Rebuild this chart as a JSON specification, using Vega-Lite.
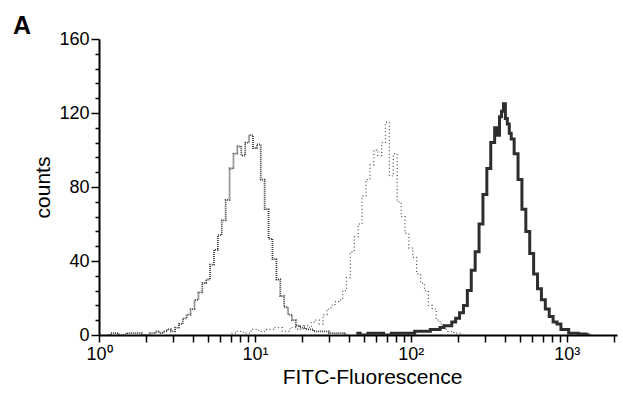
{
  "$schema": "https://vega.github.io/schema/vega-lite/v6.json",
  "width": 518,
  "height": 296,
  "autosize": {"type": "none"},
  "padding": {"left": 99, "top": 39, "right": 6, "bottom": 58},
  "background": "white",
  "title": {"text": "A", "anchor": "start", "frame": "group", "dx": -86, "dy": 17, "offset": 8, "fontSize": 25, "fontWeight": "bold", "font": "Liberation Sans", "color": "black"},
  "config": {
    "view": {"stroke": null},
    "axis": {"grid": false, "domainColor": "black", "domainWidth": 2, "tickColor": "black", "tickWidth": 1.5, "labelFont": "Liberation Sans", "labelFontSize": 18, "labelColor": "black", "titleFont": "Liberation Sans", "titleFontSize": 21, "titleFontWeight": "normal", "titleColor": "black"}
  },
  "data": {"values": [
    {"series": "s1", "fl": 1.122, "counts": 0},
    {"series": "s1", "fl": 1.259, "counts": 1},
    {"series": "s1", "fl": 1.413, "counts": 0},
    {"series": "s1", "fl": 1.585, "counts": 1},
    {"series": "s1", "fl": 1.778, "counts": 1},
    {"series": "s1", "fl": 1.995, "counts": 0},
    {"series": "s1", "fl": 2.239, "counts": 1},
    {"series": "s1", "fl": 2.371, "counts": 2},
    {"series": "s1", "fl": 2.512, "counts": 1},
    {"series": "s1", "fl": 2.661, "counts": 2},
    {"series": "s1", "fl": 2.818, "counts": 3},
    {"series": "s1", "fl": 2.985, "counts": 2},
    {"series": "s1", "fl": 3.162, "counts": 4},
    {"series": "s1", "fl": 3.35, "counts": 6},
    {"series": "s1", "fl": 3.548, "counts": 9},
    {"series": "s1", "fl": 3.758, "counts": 11},
    {"series": "s1", "fl": 3.981, "counts": 14},
    {"series": "s1", "fl": 4.217, "counts": 19},
    {"series": "s1", "fl": 4.467, "counts": 23},
    {"series": "s1", "fl": 4.732, "counts": 28},
    {"series": "s1", "fl": 5.012, "counts": 30},
    {"series": "s1", "fl": 5.309, "counts": 38},
    {"series": "s1", "fl": 5.623, "counts": 46},
    {"series": "s1", "fl": 5.957, "counts": 54},
    {"series": "s1", "fl": 6.31, "counts": 62},
    {"series": "s1", "fl": 6.683, "counts": 73},
    {"series": "s1", "fl": 7.079, "counts": 90},
    {"series": "s1", "fl": 7.499, "counts": 98},
    {"series": "s1", "fl": 7.943, "counts": 102},
    {"series": "s1", "fl": 8.414, "counts": 97},
    {"series": "s1", "fl": 8.913, "counts": 104},
    {"series": "s1", "fl": 9.441, "counts": 108},
    {"series": "s1", "fl": 10.0, "counts": 101},
    {"series": "s1", "fl": 10.59, "counts": 103},
    {"series": "s1", "fl": 11.22, "counts": 84},
    {"series": "s1", "fl": 11.89, "counts": 68},
    {"series": "s1", "fl": 12.59, "counts": 52},
    {"series": "s1", "fl": 13.34, "counts": 41},
    {"series": "s1", "fl": 14.13, "counts": 30},
    {"series": "s1", "fl": 14.96, "counts": 21},
    {"series": "s1", "fl": 15.85, "counts": 15},
    {"series": "s1", "fl": 16.79, "counts": 11},
    {"series": "s1", "fl": 17.78, "counts": 8},
    {"series": "s1", "fl": 18.84, "counts": 5},
    {"series": "s1", "fl": 19.95, "counts": 4},
    {"series": "s1", "fl": 22.39, "counts": 3},
    {"series": "s1", "fl": 25.12, "counts": 2},
    {"series": "s1", "fl": 28.18, "counts": 2},
    {"series": "s1", "fl": 31.62, "counts": 1},
    {"series": "s1", "fl": 35.48, "counts": 1},
    {"series": "s1", "fl": 39.81, "counts": 0},
    {"series": "s2", "fl": 7.079, "counts": 1},
    {"series": "s2", "fl": 7.943, "counts": 2},
    {"series": "s2", "fl": 8.913, "counts": 1},
    {"series": "s2", "fl": 10.0, "counts": 3},
    {"series": "s2", "fl": 11.22, "counts": 2},
    {"series": "s2", "fl": 12.59, "counts": 3},
    {"series": "s2", "fl": 14.13, "counts": 4},
    {"series": "s2", "fl": 15.85, "counts": 2},
    {"series": "s2", "fl": 17.78, "counts": 4},
    {"series": "s2", "fl": 19.95, "counts": 3},
    {"series": "s2", "fl": 21.13, "counts": 5},
    {"series": "s2", "fl": 22.39, "counts": 4},
    {"series": "s2", "fl": 23.71, "counts": 7},
    {"series": "s2", "fl": 25.12, "counts": 8},
    {"series": "s2", "fl": 26.61, "counts": 6},
    {"series": "s2", "fl": 28.18, "counts": 11},
    {"series": "s2", "fl": 29.85, "counts": 14},
    {"series": "s2", "fl": 31.62, "counts": 16},
    {"series": "s2", "fl": 33.5, "counts": 18},
    {"series": "s2", "fl": 35.48, "counts": 19},
    {"series": "s2", "fl": 37.58, "counts": 24},
    {"series": "s2", "fl": 39.81, "counts": 31},
    {"series": "s2", "fl": 42.17, "counts": 45},
    {"series": "s2", "fl": 44.67, "counts": 53},
    {"series": "s2", "fl": 47.32, "counts": 60},
    {"series": "s2", "fl": 50.12, "counts": 75},
    {"series": "s2", "fl": 53.09, "counts": 84},
    {"series": "s2", "fl": 56.23, "counts": 92},
    {"series": "s2", "fl": 59.57, "counts": 100},
    {"series": "s2", "fl": 63.1, "counts": 97},
    {"series": "s2", "fl": 66.83, "counts": 104},
    {"series": "s2", "fl": 70.79, "counts": 115},
    {"series": "s2", "fl": 74.99, "counts": 86},
    {"series": "s2", "fl": 79.43, "counts": 98},
    {"series": "s2", "fl": 84.14, "counts": 72},
    {"series": "s2", "fl": 89.13, "counts": 64},
    {"series": "s2", "fl": 94.41, "counts": 55},
    {"series": "s2", "fl": 100, "counts": 47},
    {"series": "s2", "fl": 105.9, "counts": 42},
    {"series": "s2", "fl": 112.2, "counts": 33},
    {"series": "s2", "fl": 118.9, "counts": 28},
    {"series": "s2", "fl": 125.9, "counts": 24},
    {"series": "s2", "fl": 133.4, "counts": 16},
    {"series": "s2", "fl": 141.3, "counts": 14},
    {"series": "s2", "fl": 149.6, "counts": 8},
    {"series": "s2", "fl": 158.5, "counts": 6},
    {"series": "s2", "fl": 167.9, "counts": 3},
    {"series": "s2", "fl": 177.8, "counts": 2},
    {"series": "s2", "fl": 199.5, "counts": 1},
    {"series": "s2", "fl": 223.9, "counts": 0},
    {"series": "s3", "fl": 44.67, "counts": 1},
    {"series": "s3", "fl": 50.12, "counts": 0},
    {"series": "s3", "fl": 56.23, "counts": 1},
    {"series": "s3", "fl": 63.1, "counts": 1},
    {"series": "s3", "fl": 70.79, "counts": 0},
    {"series": "s3", "fl": 79.43, "counts": 1},
    {"series": "s3", "fl": 89.13, "counts": 1},
    {"series": "s3", "fl": 100, "counts": 1},
    {"series": "s3", "fl": 112.2, "counts": 2},
    {"series": "s3", "fl": 125.9, "counts": 2},
    {"series": "s3", "fl": 141.3, "counts": 3},
    {"series": "s3", "fl": 149.6, "counts": 3},
    {"series": "s3", "fl": 158.5, "counts": 4},
    {"series": "s3", "fl": 167.9, "counts": 5},
    {"series": "s3", "fl": 177.8, "counts": 5},
    {"series": "s3", "fl": 188.4, "counts": 7},
    {"series": "s3", "fl": 199.5, "counts": 9},
    {"series": "s3", "fl": 211.3, "counts": 12},
    {"series": "s3", "fl": 223.9, "counts": 16},
    {"series": "s3", "fl": 237.1, "counts": 24},
    {"series": "s3", "fl": 251.2, "counts": 35},
    {"series": "s3", "fl": 266.1, "counts": 45},
    {"series": "s3", "fl": 281.8, "counts": 60},
    {"series": "s3", "fl": 298.5, "counts": 76},
    {"series": "s3", "fl": 316.2, "counts": 90},
    {"series": "s3", "fl": 335, "counts": 104},
    {"series": "s3", "fl": 354.8, "counts": 112},
    {"series": "s3", "fl": 365, "counts": 108},
    {"series": "s3", "fl": 375.8, "counts": 118},
    {"series": "s3", "fl": 387, "counts": 121},
    {"series": "s3", "fl": 398.1, "counts": 125},
    {"series": "s3", "fl": 410, "counts": 117},
    {"series": "s3", "fl": 421.7, "counts": 114},
    {"series": "s3", "fl": 434, "counts": 109},
    {"series": "s3", "fl": 446.7, "counts": 106},
    {"series": "s3", "fl": 473.2, "counts": 98},
    {"series": "s3", "fl": 501.2, "counts": 84},
    {"series": "s3", "fl": 530.9, "counts": 68},
    {"series": "s3", "fl": 562.3, "counts": 56},
    {"series": "s3", "fl": 595.7, "counts": 44},
    {"series": "s3", "fl": 631, "counts": 33},
    {"series": "s3", "fl": 668.3, "counts": 25},
    {"series": "s3", "fl": 707.9, "counts": 19},
    {"series": "s3", "fl": 749.9, "counts": 14},
    {"series": "s3", "fl": 794.3, "counts": 10},
    {"series": "s3", "fl": 841.4, "counts": 7},
    {"series": "s3", "fl": 891.3, "counts": 6},
    {"series": "s3", "fl": 944.1, "counts": 3},
    {"series": "s3", "fl": 1000, "counts": 3},
    {"series": "s3", "fl": 1059, "counts": 1},
    {"series": "s3", "fl": 1122, "counts": 1},
    {"series": "s3", "fl": 1259, "counts": 0.5},
    {"series": "s3", "fl": 1413, "counts": 0}
  ]},
  "encoding": {
    "x": {
      "field": "fl", "type": "quantitative",
      "scale": {"type": "log", "domain": [1, 2100], "nice": false},
      "axis": {
        "title": "FITC-Fluorescence",
        "titlePadding": 3,
        "titleX": 273,
        "values": [1,2,3,4,5,6,7,8,9,10,20,30,40,50,60,70,80,90,100,200,300,400,500,600,700,800,900,1000,2000],
        "labelExpr": "datum.value == 1 ? '10⁰' : datum.value == 10 ? '10¹' : datum.value == 100 ? '10²' : datum.value == 1000 ? '10³' : ''",
        "tickSize": 7,
        "labelPadding": 3,
        "labelOverlap": false,
        "labelFlush": false
      }
    },
    "y": {
      "field": "counts", "type": "quantitative",
      "scale": {"domain": [0, 160], "nice": false},
      "axis": {
        "title": "counts",
        "titlePadding": 5,
        "values": [0,8,16,24,32,40,48,56,64,72,80,88,96,104,112,120,128,136,144,152,160],
        "labelExpr": "datum.value % 40 == 0 ? datum.label : ''",
        "tickSize": {"condition": {"test": "datum.value % 40 == 0", "value": 8}, "value": 4},
        "labelPadding": 2,
        "labelOverlap": false
      }
    }
  },
  "layer": [
    {
      "transform": [{"filter": "datum.series == 's1'"}],
      "mark": {"type": "line", "interpolate": "step", "clip": true, "color": "#3a3a3a", "strokeWidth": 1.8, "strokeDash": [1, 1]}
    },
    {
      "transform": [{"filter": "datum.series == 's2'"}],
      "mark": {"type": "line", "interpolate": "step", "clip": true, "color": "#555555", "strokeWidth": 1.3, "strokeDash": [1, 2.5]}
    },
    {
      "transform": [{"filter": "datum.series == 's3'"}],
      "mark": {"type": "line", "interpolate": "step", "clip": true, "color": "#2e2e2e", "strokeWidth": 3}
    }
  ]
}
